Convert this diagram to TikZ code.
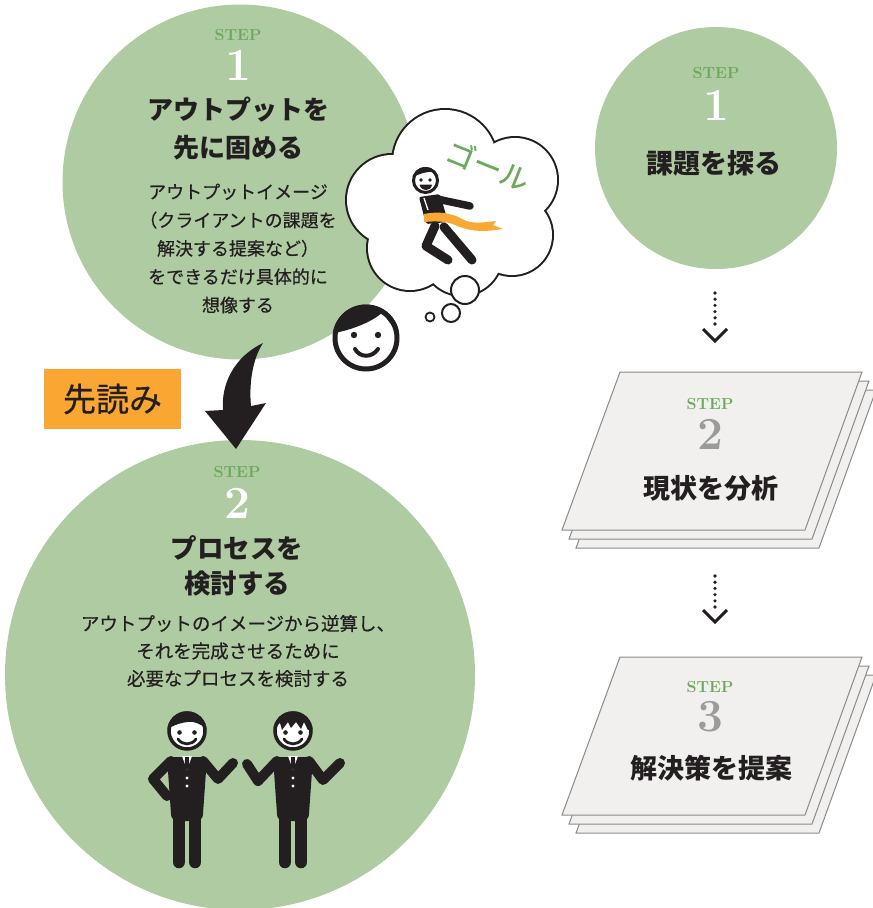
\documentclass[tikz,border=0pt]{standalone}
\usepackage{fontspec}
\newfontfamily\jp{Noto Sans CJK JP}
\newfontfamily\jpmed[FakeBold=0.45]{Noto Sans CJK JP}
\definecolor{sage}{HTML}{AECBA2}
\definecolor{stepgreen}{HTML}{6AAA5A}
\definecolor{tape}{HTML}{F8A833}
\definecolor{boxorange}{HTML}{F9A633}
\definecolor{sheetfill}{HTML}{F1F0EE}
\definecolor{sheetline}{HTML}{8A8A8A}
\definecolor{numgrey}{HTML}{9B9B9B}
\definecolor{ink}{HTML}{231F20}
\begin{document}
\begin{tikzpicture}[x=1pt,y=-1pt,
  stepdisc/.style={circle, fill=sage, inner sep=0pt},
  steplbl/.style={text=stepgreen, inner sep=0pt, font=\rmfamily\bfseries\fontsize{16}{16}\selectfont},
  stepnum/.style={inner sep=0pt, font=\rmfamily\bfseries\fontsize{46}{46}\selectfont},
  titlejp/.style={text=ink, align=center, inner sep=0pt, font=\jp\bfseries\fontsize{26}{38}\selectfont},
  bodyjp/.style={text=ink, align=center, inner sep=0pt, font=\jpmed\fontsize{18}{28.3}\selectfont},
  sheet/.style={fill=sheetfill, draw=sheetline, line width=1pt},
  dotline/.style={draw=ink, line width=3.6pt, line cap=round, dash pattern=on 0pt off 6.2pt},
  chevron/.style={draw=ink, line width=3pt},
  limb/.style={draw=ink, line width=10pt, line cap=round, line join=round},
  man/.pic={
    % legs, jacket, shirt, tie, buttons
    \draw[ink, line width=12.5pt, line cap=round] (-8.2,86) -- (-8.2,131) (8.2,86) -- (8.2,131);
    \fill[ink, rounded corners=6pt] (-20,26) -- (20,26) -- (15.5,90) -- (-15.5,90) -- cycle;
    \fill[white] (-5,25) -- (5,25) -- (0,39) -- cycle;
    \fill[ink] (-1.8,26) -- (1.8,26) -- (2.4,35) -- (0,39) -- (-2.4,35) -- cycle;
    \fill[white] (0,47) circle[radius=1.7] (0,55) circle[radius=1.7];
    % face
    \fill[white] (0,0) circle[radius=18];
    \draw[ink, line width=3.5pt] (0,0) circle[radius=18];
    \fill[ink] (-7.5,1.5) circle[radius=2.3] (7.5,1.5) circle[radius=2.3];
    \draw[ink, line width=2.8pt, line cap=round] (-9,8) .. controls (-5,14.5) and (5,14.5) .. (9,8);
  },
]
\useasboundingbox (0,0) rectangle (873,908);

% ---------- left column: step discs
\node[stepdisc, minimum size=355pt] (s1) at (240,182) {};
\node[stepdisc, minimum size=470pt] (s2) at (240,675) {};

% curved arrow from step 1 to step 2
\coordinate (arrtail) at (263,343);
\coordinate (arrtip) at (236,449);
\fill[ink] (arrtail) .. controls (234,357) and (221,384) .. (223,410) -- (205,411)
  -- (arrtip) -- (266,403) -- (251,406) .. controls (249,385) and (252,360) .. (arrtail) -- cycle;

% look-ahead tag
\node[fill=boxorange, minimum width=137pt, minimum height=60pt, inner sep=0pt,
  text=ink, font=\jpmed\fontsize{33}{33}\selectfont] (yomi) at (112.5,399) {先読み};

% step 1 text
\node[steplbl] (s1step) at (238,35) {STEP};
\node[stepnum, text=white] (s1num) at (238,65) {1};
\node[titlejp] (s1title) at (238,129) {アウトプットを\\先に固める};
\node[bodyjp] (s1body) at (238,248.5) {アウトプットイメージ\\（クライアントの課題を\\解決する提案など）\\をできるだけ具体的に\\想像する};

% step 2 text
\node[steplbl] (s2step) at (237,472) {STEP};
\node[stepnum, text=white] (s2num) at (237,503) {2};
\node[titlejp, font=\jp\bfseries\fontsize{26.5}{35}\selectfont] (s2title) at (237,565.5) {プロセスを\\検討する};
\node[bodyjp, font=\jpmed\fontsize{18.5}{27.5}\selectfont] (s2body) at (238,651) {アウトプットのイメージから逆算し、\\それを完成させるために\\必要なプロセスを検討する};

% ---------- thought cloud
\foreach \cx/\cy/\r in {445/162/52, 515/180/42, 512/235/40, 462/255/40, 410/248/42, 392/200/45, 455/210/55}
  \draw[ink, line width=4pt] (\cx,\cy) circle[radius=\r];
\foreach \cx/\cy/\r in {445/162/52, 515/180/42, 512/235/40, 462/255/40, 410/248/42, 392/200/45, 455/210/55}
  \fill[white] (\cx,\cy) circle[radius=\r];
\draw[ink, fill=white, line width=2pt] (465,290) circle[radius=14];
\draw[ink, fill=white, line width=2pt] (451,313) circle[radius=9];
\draw[ink, fill=white, line width=1.8pt] (430,317) circle[radius=4.5];

\node[text=stepgreen, rotate=-22, inner sep=0pt, font=\jpmed\fontsize{29}{29}\selectfont] (goal) at (488,165) {ゴール};

% runner breaking the tape
\draw[ink, line width=9pt, line cap=round, line join=round] (435,226) -- (426,246) -- (448,260);
\draw[ink, line width=9pt, line cap=round] (444,227) -- (472,260);
\fill[ink, rounded corners=2pt] (419,197) -- (440,194) -- (448,222) -- (426,224) -- cycle;
\draw[ink, line width=7.5pt, line cap=round] (437,199) -- (470,206);
\draw[white, line width=1.3pt] (424,198) -- (428,210);
\fill[tape] (424,214) .. controls (438,211) and (452,213) .. (462,219)
  .. controls (472,225) and (485,222) .. (496,221) -- (493,225) -- (503,229)
  -- (495,230) .. controls (482,232) and (468,231) .. (455,225)
  .. controls (446,221) and (436,221) .. (424,222) -- cycle;
\fill[white] (425.5,180.5) circle[radius=12];
\draw[ink, line width=3pt] (425.5,180.5) circle[radius=12];
\begin{scope}
  \clip (425.5,180.5) circle[radius=13.5];
  \fill[ink] (411,178) .. controls (418,174) and (428,171) .. (434,172)
    .. controls (437,174) and (439,176) .. (441,178) -- (441,165) -- (411,165) -- cycle;
\end{scope}
\fill[ink] (421,180) circle[radius=1.8] (430,180) circle[radius=1.8];
\fill[ink] (419.5,184.5) -- (432,184.5) .. controls (431,192) and (421,192) .. (419.5,184.5) -- cycle;

% ---------- smiling thinker
\fill[white] (366,338) circle[radius=31];
\draw[ink, line width=5pt] (366,338) circle[radius=31];
\begin{scope}
  \clip (366,338) circle[radius=33.5];
  \fill[ink] (330,334) .. controls (352,330) and (372,322) .. (383,312)
    .. controls (388,322) and (395,330) .. (404,333) -- (404,300) -- (330,300) -- cycle;
\end{scope}
\fill[ink] (354,335) circle[radius=3.2] (378,335) circle[radius=3.2];
\draw[ink, line width=4pt, line cap=round] (355,349) .. controls (360,358) and (372,358) .. (378,349);

% ---------- two colleagues
\pic at (187,731) {man};
\pic at (293,731) {man};
\begin{scope}
  \clip (187,731) circle[radius=19.75];
  \fill[ink] (166,730) .. controls (173,725) and (185,721) .. (193,722)
    .. controls (199,723) and (205,727) .. (208,731) -- (208,708) -- (166,708) -- cycle;
\end{scope}
\begin{scope}
  \clip (293,731) circle[radius=19.75];
  \fill[ink] (272,730) -- (280,723) -- (282,730) -- (288,722) -- (291,728) -- (296,722)
    -- (301,729) -- (304,722) -- (308,730) -- (314,729) -- (314,708) -- (272,708) -- cycle;
\end{scope}
\draw[limb] (171,761) -- (153,779) -- (167,796);
\draw[limb] (203,761) -- (218,779) -- (233,763);
\draw[limb] (277,761) -- (258,781) -- (247,764);
\draw[limb] (309,761) -- (323,780) -- (340,763);

% ---------- right column
\node[stepdisc, minimum size=242pt] (r1) at (716,148) {};
\node[steplbl] (r1step) at (716,73) {STEP};
\node[stepnum, text=white] (r1num) at (716,105) {1};
\node[titlejp, font=\jp\bfseries\fontsize{27}{27}\selectfont] (r1title) at (714,163) {課題を探る};

% stacked sheets for steps 2 and 3
\foreach \oy in {0,285}{
  \foreach \dx/\dy in {14/18, 7/9, 0/0}{
    \draw[sheet] (620+\dx,372+\oy+\dy) -- (862+\dx,372+\oy+\dy) -- (805+\dx,530+\oy+\dy) -- (562+\dx,530+\oy+\dy) -- cycle;
  }
}
\node[steplbl] (r2step) at (710,404) {STEP};
\node[stepnum, text=numgrey] (r2num) at (710,434) {2};
\node[titlejp, font=\jp\bfseries\fontsize{27}{27}\selectfont] (r2title) at (711,488) {現状を分析};
\node[steplbl] (r3step) at (710,687) {STEP};
\node[stepnum, text=numgrey] (r3num) at (710,717) {3};
\node[titlejp, font=\jp\bfseries\fontsize{27}{27}\selectfont] (r3title) at (711,768) {解決策を提案};

% dotted arrows between the steps
\coordinate (d1a) at (715,293);
\coordinate (d1b) at (715,326);
\coordinate (d1tip) at (715,341);
\draw[dotline] (d1a) -- (d1b);
\draw[chevron] (703,329) -- (d1tip) -- (727,329);
\coordinate (d2a) at (715,576);
\coordinate (d2b) at (715,607);
\coordinate (d2tip) at (715,622);
\draw[dotline] (d2a) -- (d2b);
\draw[chevron] (703,610) -- (d2tip) -- (727,610);
\end{tikzpicture}
\end{document}
